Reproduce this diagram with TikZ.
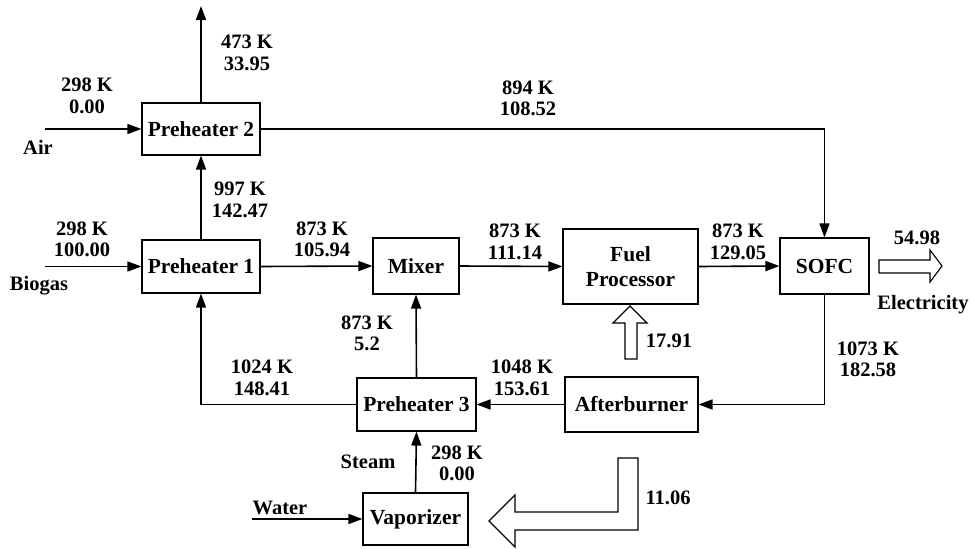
\documentclass[tikz,border=0pt]{standalone}
\usepackage{fontspec}
\setmainfont{Liberation Serif}
\usetikzlibrary{arrows.meta}
\begin{document}
\begin{tikzpicture}[x=1pt,y=-1pt,
  unit/.style={draw,line width=1.1pt,rectangle,inner sep=0pt,align=center,font=\fontsize{21.5}{25}\selectfont\bfseries},
  lbl/.style={inner sep=0pt,align=center,font=\fontsize{20.5}{21.5}\selectfont\bfseries},
  flow/.style={line width=1.6pt,-{Triangle[length=14pt,width=10pt]}},
  hollow/.style={draw,line width=1.1pt,fill=white,line join=miter}]
\useasboundingbox (0,0) rectangle (970,549);
% units
\node[unit,minimum width=118pt,minimum height=52pt] (ph2) at (201,129) {Preheater 2};
\node[unit,minimum width=118pt,minimum height=53pt] (ph1) at (201,266.5) {Preheater 1};
\node[unit,minimum width=86pt,minimum height=56pt] (mix) at (416,266) {Mixer};
\node[unit,minimum width=135pt,minimum height=75pt] (fp) at (630.5,266.5) {Fuel\\Processor};
\node[unit,minimum width=89pt,minimum height=56pt] (sofc) at (824.5,266) {SOFC};
\node[unit,minimum width=133pt,minimum height=55pt] (ab) at (631.5,404.5) {Afterburner};
\node[unit,minimum width=119pt,minimum height=53pt] (ph3) at (416.5,404.5) {Preheater 3};
\node[unit,minimum width=105pt,minimum height=52pt] (vap) at (415.5,519) {Vaporizer};
% free ends
\coordinate (airin) at (45,129);
\coordinate (exh) at (201,6);
\coordinate (bioin) at (45,266.5);
\coordinate (waterin) at (252,519);
% connectors
\draw[flow] (airin) -- (ph2.west);
\draw[flow] (ph2.north) -- (exh);
\draw[flow] (ph1.north) -- (ph2.south);
\draw[flow] (bioin) -- (ph1.west);
\draw[flow] (ph1.east) -- (mix.west);
\draw[flow] (mix.east) -- (fp.west);
\draw[flow] (fp.east) -- (sofc.west);
\draw[flow] (ph2.east) -| (sofc.north);
\draw[flow] (sofc.south) |- (ab.east);
\draw[flow] (ab.west) -- (ph3.east);
\draw[flow] (ph3.north) -- (mix.south);
\draw[flow] (ph3.west) -| (ph1.south);
\draw[flow] (vap.north) -- (ph3.south);
\draw[flow] (waterin) -- (vap.west);
% hollow arrows
\draw[hollow] (879,260) -- (930,260) -- (930,250) -- (942,266) -- (930,282) -- (930,273) -- (879,273) -- cycle;
\draw[hollow] (630,306) -- (647,323) -- (637,323) -- (637,359) -- (625,359) -- (625,323) -- (613,323) -- cycle;
\draw[hollow] (489,521) -- (515,495) -- (515,512) -- (618,512) -- (618,458) -- (638,458) -- (638,530) -- (515,530) -- (515,547) -- cycle;
% labels
\node[lbl] (l1) at (87,96) {298 K\\0.00};
\node[lbl] (l2) at (247,53) {473 K\\33.95};
\node[lbl] (l3) at (38,147) {Air};
\node[lbl] (l4) at (240,200) {997 K\\142.47};
\node[lbl] (l5) at (528,98.5) {894 K\\108.52};
\node[lbl] (l6) at (82,239.5) {298 K\\100.00};
\node[lbl] (l7) at (39,286) {Biogas};
\node[lbl] (l8) at (322,239.5) {873 K\\105.94};
\node[lbl] (l9) at (515,242) {873 K\\111.14};
\node[lbl] (l10) at (738,242) {873 K\\129.05};
\node[lbl] (l11) at (917,238) {54.98};
\node[lbl] (l12) at (923,305) {Electricity};
\node[lbl] (l13) at (367,333.5) {873 K\\5.2};
\node[lbl] (l14) at (669,341) {17.91};
\node[lbl] (l15) at (868,359.5) {1073 K\\182.58};
\node[lbl] (l16) at (262,378) {1024 K\\148.41};
\node[lbl] (l17) at (522,378) {1048 K\\153.61};
\node[lbl] (l18) at (368,462) {Steam};
\node[lbl] (l19) at (457,463.5) {298 K\\0.00};
\node[lbl] (l20) at (280,508) {Water};
\node[lbl] (l21) at (668,498) {11.06};
\end{tikzpicture}
\end{document}
